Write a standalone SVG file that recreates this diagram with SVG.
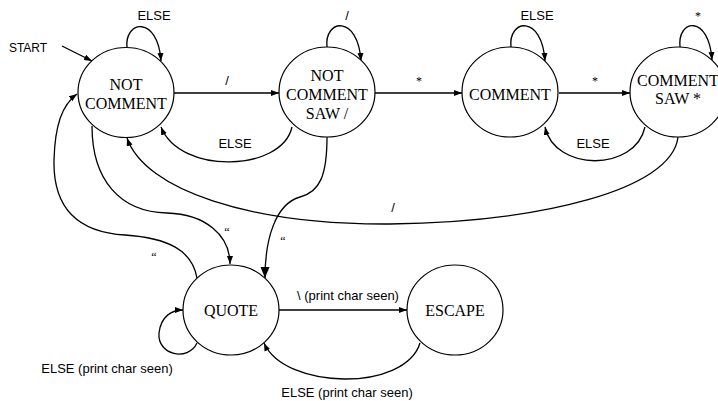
<svg xmlns="http://www.w3.org/2000/svg" width="718" height="401" viewBox="0 0 718 401">
<defs>
<marker id="ah" markerUnits="userSpaceOnUse" markerWidth="9" markerHeight="7" refX="8" refY="3" orient="auto"><path d="M0,0 L8,3 L0,6 z" fill="#000"/></marker>
<marker id="ahb" markerUnits="userSpaceOnUse" markerWidth="12" markerHeight="10" refX="11" refY="4.5" orient="auto"><path d="M0,0 L11,4.5 L0,9 z" fill="#000"/></marker>
<style>
.node ellipse{fill:#fff;stroke:#000;stroke-width:1.2}
.nt{font-family:"Liberation Serif","Times New Roman",serif;font-size:16px;text-anchor:middle;fill:#000}
.edge path{fill:none;stroke:#000;stroke-width:1.3}
.lb{font-family:"Liberation Sans",Arial,sans-serif;font-size:13px;text-anchor:middle;fill:#000}
.ls{font-family:"Liberation Serif","Times New Roman",serif;font-size:12px;text-anchor:middle;fill:#000}
</style>
</defs>
<rect width="718" height="401" fill="#fff"/>
<g id="connectors" class="edge">
<path d="M62,46 L92,61" marker-end="url(#ah)"/>
<path d="M127,48 C124,20 158,15 161,61" marker-end="url(#ah)"/>
<path d="M327,47 C324,19 358,14 361,61" marker-end="url(#ah)"/>
<path d="M511,47 C508,19 542,14 545,61" marker-end="url(#ah)"/>
<path d="M680,47 C677,19 709,14 712,60" marker-end="url(#ah)"/>
<path d="M174,93 L279,93" marker-end="url(#ah)"/>
<path d="M375,93 L462,93" marker-end="url(#ah)"/>
<path d="M559,93 L630,93" marker-end="url(#ah)"/>
<path d="M292,127 C282,172 180,175 161,127" marker-end="url(#ah)"/>
<path d="M645,127 C635,172 555,172 545,127" marker-end="url(#ah)"/>
<path d="M678,137 C672,190 540,222 390,224 C250,225 145,190 127,138" marker-end="url(#ah)"/>
<path d="M92,126 C92,180 120,212 167,213 C205,214 230,235 230,264" marker-end="url(#ah)"/>
<path d="M327,137 C327,175 320,192 300,197 C275,204 265,240 265,278" marker-end="url(#ahb)"/>
<path d="M197,278 C192,250 168,238 125,235 C75,232 53,205 54,160 C55,125 62,105 77,94" marker-end="url(#ah)"/>
<path d="M197,343 C188,362 157,355 159,333 C161,316 172,310 183,310" marker-end="url(#ah)"/>
<path d="M279,310 L407,310" marker-end="url(#ah)"/>
<path d="M420,343 C405,392 285,390 264,343" marker-end="url(#ah)"/>
</g>
<g id="labels">
<text class="lb" x="28" y="52" style="font-size:12px">START</text>
<text class="lb" x="154" y="20">ELSE</text>
<text class="lb" x="227" y="85">/</text>
<text class="lb" x="347" y="20">/</text>
<text class="ls" x="419" y="85">*</text>
<text class="lb" x="537" y="20">ELSE</text>
<text class="ls" x="595" y="85">*</text>
<text class="ls" x="698" y="20">*</text>
<text class="lb" x="235" y="148">ELSE</text>
<text class="lb" x="593" y="148">ELSE</text>
<text class="lb" x="393" y="212">/</text>
<text class="ls" x="227" y="236">“</text>
<text class="ls" x="283" y="245">“</text>
<text class="ls" x="154" y="261">“</text>
<text class="lb" x="348" y="300">\ (print char seen)</text>
<text class="lb" x="107" y="373">ELSE (print char seen)</text>
<text class="lb" x="347" y="397">ELSE (print char seen)</text>
</g>
<g id="not_comment" class="node"><ellipse cx="126" cy="92.5" rx="48" ry="45"/><text class="nt" x="126" y="90">NOT</text><text class="nt" x="126" y="109">COMMENT</text></g>
<g id="not_comment_saw" class="node"><ellipse cx="327" cy="92" rx="48" ry="45"/><text class="nt" x="327" y="81">NOT</text><text class="nt" x="327" y="100">COMMENT</text><text class="nt" x="327" y="119">SAW /</text></g>
<g id="comment" class="node"><ellipse cx="510" cy="92" rx="48" ry="45"/><text class="nt" x="510" y="100">COMMENT</text></g>
<g id="comment_saw" class="node"><ellipse cx="678" cy="92" rx="48" ry="45"/><text class="nt" x="678" y="86">COMMENT</text><text class="nt" x="678" y="104">SAW *</text></g>
<g id="quote" class="node"><ellipse cx="231" cy="310" rx="48" ry="45"/><text class="nt" x="231" y="316">QUOTE</text></g>
<g id="escape" class="node"><ellipse cx="455" cy="310" rx="48" ry="45"/><text class="nt" x="455" y="316">ESCAPE</text></g>
</svg>
